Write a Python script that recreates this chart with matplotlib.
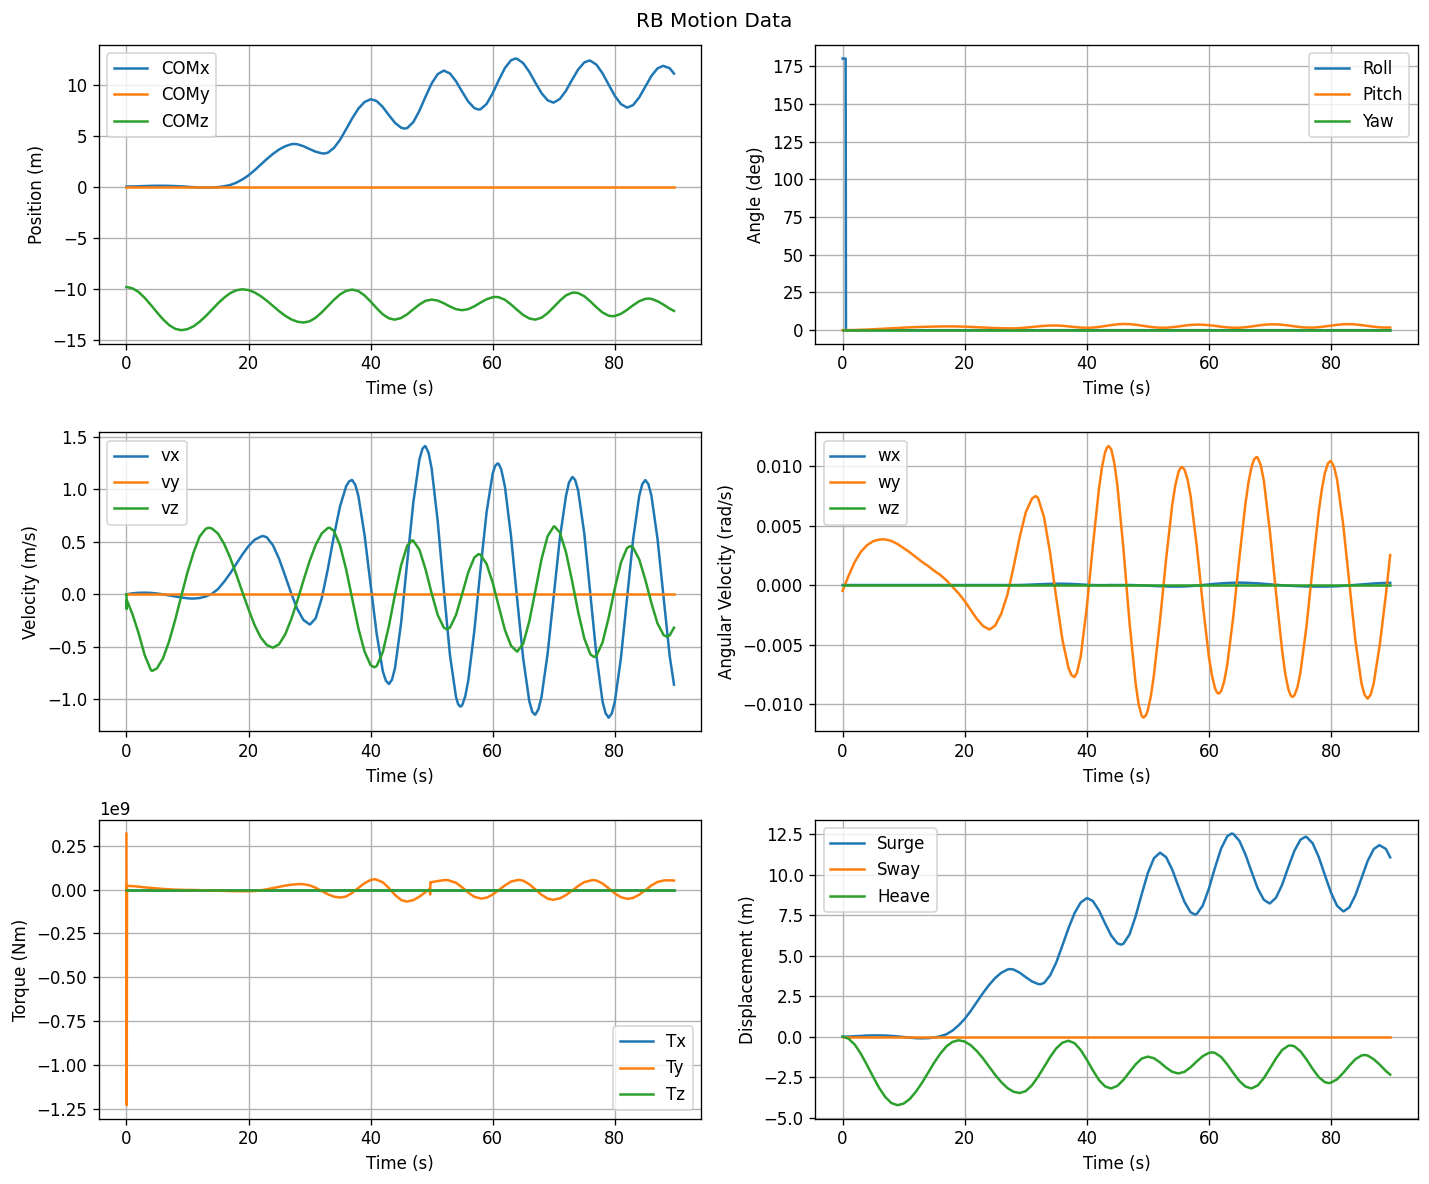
import numpy as np
import matplotlib
matplotlib.use('Agg')
import matplotlib.pyplot as plt

# ---------------- sampling grid (s) ----------------
t = np.concatenate([[0.0, 0.05, 0.1], np.arange(1, 90), [89.7]])

# ---------------- Position (m) ----------------
com_x = [0.00, 0.00, 0.00,
         0.01, 0.03, 0.05, 0.07, 0.08, 0.08, 0.07, 0.05, 0.02, -0.02,
         -0.06, -0.09, -0.10, -0.09, -0.05, 0.03, 0.15, 0.38, 0.70, 1.10,
         1.60, 2.15, 2.70, 3.20, 3.63, 3.95, 4.15, 4.15, 3.96, 3.68,
         3.42, 3.26, 3.32, 3.79, 4.59, 5.63, 6.70, 7.64, 8.29, 8.56,
         8.38, 7.80, 7.00, 6.25, 5.77, 5.74, 6.32, 7.44, 8.81, 10.11,
         11.03, 11.37, 11.09, 10.32, 9.30, 8.33, 7.69, 7.58, 8.10, 9.15,
         10.44, 11.62, 12.38, 12.53, 12.10, 11.25, 10.18, 9.16, 8.46, 8.24,
         8.59, 9.39, 10.46, 11.48, 12.17, 12.34, 11.95, 11.10, 9.99, 8.90,
         8.09, 7.75, 7.99, 8.74, 9.79, 10.85, 11.59, 11.82, 11.60,
         11.08]
com_x_ext_t = [27.4, 32.4, 40.1, 45.6, 57.7, 63.7, 69.9, 75.8, 82.1, 87.9]
com_x_ext_v = [4.18, 3.24, 8.56, 5.69, 7.55, 12.55, 8.24, 12.35, 7.75, 11.83]

com_z = [-9.85, -9.85, -9.85,
         -9.98, -10.34, -10.91, -11.60, -12.33, -13.02, -13.58, -13.95, -14.08, -13.98,
         -13.70, -13.25, -12.70, -12.08, -11.45, -10.90, -10.45, -10.17, -10.07, -10.15,
         -10.38, -10.74, -11.19, -11.70, -12.21, -12.66, -13.02, -13.25, -13.33, -13.21,
         -12.86, -12.33, -11.72, -11.10, -10.57, -10.22, -10.10, -10.25, -10.67, -11.27,
         -11.93, -12.53, -12.92, -13.04, -12.89, -12.52, -12.03, -11.56, -11.20, -11.08,
         -11.18, -11.44, -11.76, -12.02, -12.12, -12.02, -11.74, -11.38, -11.05, -10.85,
         -10.85, -11.10, -11.56, -12.09, -12.59, -12.93, -13.04, -12.86, -12.41, -11.81,
         -11.19, -10.67, -10.41, -10.44, -10.75, -11.26, -11.84, -12.35, -12.66, -12.69,
         -12.48, -12.09, -11.64, -11.24, -11.01, -11.01, -11.24, -11.58, -11.97,
         -12.19]
com_z_ext_t = [43.9, 60.5, 66.9, 73.4, 79.6, 85.5]
com_z_ext_v = [-13.04, -10.82, -13.04, -10.39, -12.71, -10.98]

# ---------------- Euler angles (deg) ----------------
roll_t = [0.0, 0.5, 0.55, 89.7]
roll = [180.0, 180.0, 0.0, 0.0]
pitch = [0.0, 0.0, 0.0,
         0.01, 0.08, 0.22, 0.40, 0.60, 0.82, 1.04, 1.25, 1.45, 1.70,
         1.88, 2.05, 2.18, 2.30, 2.39, 2.46, 2.50, 2.50, 2.44, 2.32,
         2.16, 1.97, 1.77, 1.58, 1.41, 1.28, 1.21, 1.22, 1.37, 1.69,
         2.09, 2.50, 2.84, 3.05, 3.09, 2.90, 2.52, 2.09, 1.75, 1.60,
         1.73, 2.14, 2.75, 3.39, 3.87, 4.09, 4.00, 3.62, 3.04, 2.41,
         1.91, 1.63, 1.65, 1.96, 2.45, 3.01, 3.46, 3.69, 3.63, 3.32,
         2.84, 2.30, 1.86, 1.62, 1.65, 1.97, 2.48, 3.07, 3.57, 3.86,
         3.86, 3.59, 3.11, 2.55, 2.06, 1.75, 1.72, 1.98, 2.45, 3.02,
         3.55, 3.91, 3.99, 3.80, 3.37, 2.82, 2.29, 1.89, 1.75,
         1.78]

# ---------------- Velocity (m/s) ----------------
v_x = [0.0, 0.0, 0.001,
       0.010, 0.015, 0.016, 0.014, 0.008, 0.000, -0.010, -0.020, -0.030, -0.037,
       -0.040, -0.035, -0.020, 0.005, 0.050, 0.120, 0.200, 0.290, 0.380, 0.460,
       0.520, 0.550, 0.543, 0.468, 0.340, 0.177, 0.009, -0.140, -0.244, -0.286,
       -0.228, -0.037, 0.243, 0.560, 0.840, 1.031, 1.088, 0.937, 0.570, 0.092,
       -0.378, -0.732, -0.854, -0.702, -0.271, 0.309, 0.876, 1.286, 1.411, 1.199,
       0.693, 0.040, -0.578, -0.981, -1.056, -0.822, -0.344, 0.237, 0.782, 1.153,
       1.241, 1.028, 0.556, -0.042, -0.612, -1.019, -1.145, -0.976, -0.564, -0.015,
       0.535, 0.936, 1.115, 0.989, 0.581, 0.001, -0.586, -1.024, -1.175, -1.026,
       -0.609, -0.043, 0.523, 0.937, 1.089, 0.941, 0.529, -0.031, -0.590,
       -0.860]
# extra readings at the crests and troughs
v_x_ext_t = [2.9, 10.7, 22.4, 30.1, 36.5, 36.9, 37.5, 42.5, 43.5, 48.5, 48.9, 49.5,
             54.35, 54.7, 55.5, 60.4, 60.8, 61.4, 66.5, 66.9, 67.5, 72.5, 73.1, 73.5,
             78.5, 79.5, 84.5, 85.5]
v_x_ext_v = [0.016, -0.040, 0.556, -0.286, 1.077, 1.089, 1.043, -0.822, -0.814, 1.388, 1.413, 1.348,
             -1.048, -1.070, -0.972, 1.223, 1.248, 1.191, -1.121, -1.146, -1.094, 1.065, 1.117, 1.091,
             -1.134, -1.136, 1.050, 1.051]

v_z = [0.0, -0.14, -0.06,
       -0.190, -0.370, -0.580, -0.720, -0.705, -0.609, -0.447, -0.241, -0.013, 0.209,
       0.399, 0.552, 0.625, 0.628, 0.579, 0.482, 0.349, 0.190, 0.021, -0.142,
       -0.293, -0.410, -0.483, -0.508, -0.476, -0.383, -0.237, -0.061, 0.132, 0.316,
       0.471, 0.581, 0.632, 0.604, 0.466, 0.236, -0.045, -0.323, -0.543, -0.674,
       -0.683, -0.550, -0.301, 0.000, 0.278, 0.464, 0.511, 0.425, 0.239, 0.010,
       -0.197, -0.317, -0.317, -0.195, 0.004, 0.210, 0.352, 0.378, 0.290, 0.111,
       -0.115, -0.339, -0.489, -0.546, -0.470, -0.256, 0.037, 0.335, 0.555, 0.647,
       0.591, 0.403, 0.130, -0.167, -0.419, -0.571, -0.585, -0.457, -0.221, 0.055,
       0.301, 0.441, 0.445, 0.334, 0.140, -0.083, -0.277, -0.388, -0.390,
       -0.317]
v_z_ext_t = [4.2, 13.5, 33.3, 40.6, 46.8, 52.5, 57.7, 70.1, 76.6, 82.5, 88.5]
v_z_ext_v = [-0.730, 0.635, 0.635, -0.695, 0.514, -0.333, 0.384, 0.648, -0.597, 0.460, -0.403]

# ---------------- Angular velocity (1e-3 rad/s) ----------------
w_y_milli = [-0.50, -0.45, -0.35,
             0.80, 1.95, 2.80, 3.35, 3.68, 3.82, 3.83, 3.70, 3.45, 3.10,
             2.75, 2.35, 1.95, 1.60, 1.20, 0.85, 0.40, -0.15, -0.70, -1.35,
             -2.10, -2.85, -3.45, -3.72, -3.40, -2.40, -0.80, 1.50, 4.00, 6.10,
             7.25, 7.33, 5.70, 2.67, -1.08, -4.57, -6.97, -7.72, -6.02, -1.89,
             3.31, 8.11, 11.16, 11.41, 8.44, 3.07, -3.16, -8.27, -10.99, -10.52,
             -7.57, -2.95, 2.21, 6.76, 9.46, 9.71, 7.50, 3.35, -1.59, -6.04,
             -8.67, -8.93, -6.74, -2.65, 2.31, 6.88, 9.94, 10.70, 8.78, 4.49,
             -0.66, -5.52, -8.72, -9.29, -7.35, -3.42, 1.50, 6.20, 9.41, 10.41,
             8.86, 5.09, 0.18, -4.66, -8.29, -9.55, -8.27, -5.00, -0.80,
             2.52]
w_y_ext_t = [6.6, 24.1, 31.6, 37.5, 37.9, 38.4, 42.5, 43.3, 43.6, 44.5, 48.5, 49.3, 49.7, 50.5,
             54.5, 55.3, 55.6, 56.5, 60.5, 61.3, 61.6, 62.5, 66.5, 67.4, 67.8, 68.5,
             72.5, 73.4, 73.7, 74.5, 78.5, 79.5, 79.9, 80.5, 85.5, 86.5]
w_y_ext_v = [3.84, -3.73, 7.48, -7.58, -7.73, -7.36, 9.95, 11.55, 11.68, 10.28, -10.06, -11.15, -10.94, -9.32,
             8.38, 9.80, 9.92, 8.88, -7.59, -9.01, -9.13, -8.11, 8.68, 10.56, 10.76, 10.07,
             -7.42, -9.28, -9.41, -8.61, 8.03, 10.22, 10.42, 9.95, -9.22, -9.22]

w_x_milli = [0.0, 0.0, 0.0,
             0.0, 0.0, 0.0, 0.0, 0.0, 0.0, 0.0, 0.0, 0.0, 0.0,
             0.0, 0.0, 0.0, 0.0, 0.0, 0.0, 0.0, 0.0, 0.0, 0.0,
             0.0, 0.0, 0.0, 0.0, 0.0, 0.0, 0.0, 0.0, 0.0, 0.02,
             0.04, 0.06, 0.08, 0.10, 0.11, 0.11, 0.10, 0.08, 0.05, 0.02,
             0.0, -0.01, -0.01, 0.0, 0.0, 0.0, 0.0, -0.01, -0.03, -0.05,
             -0.08, -0.10, -0.12, -0.13, -0.13, -0.12, -0.09, -0.05, 0.0, 0.05,
             0.10, 0.14, 0.17, 0.19, 0.20, 0.19, 0.17, 0.14, 0.10, 0.06,
             0.02, -0.02, -0.05, -0.08, -0.10, -0.12, -0.13, -0.13, -0.13, -0.12,
             -0.10, -0.07, -0.03, 0.01, 0.05, 0.09, 0.13, 0.16, 0.18,
             0.19]

# ---------------- Torque (1e9 Nm) ----------------
torque_t = [0.0, 0.05, 0.1, 1, 2, 3, 4, 5, 6, 7, 8, 9, 10,
            11, 12, 13, 14, 15, 16, 17, 18, 19, 20,
            21, 22, 23, 24, 25, 26, 27, 28, 28.75, 30,
            31, 32, 33, 34, 35.1, 36, 37, 38, 39, 40,
            40.75, 42, 43, 44, 45, 45.9, 47, 48, 49, 49.7,
            49.75, 49.8, 50, 51, 52, 52.6, 54, 55, 56, 57,
            58.1, 59, 60, 61, 62, 63, 64.25, 65, 66, 67,
            68, 69, 69.9, 71, 72, 73, 74, 75, 76.4, 77,
            78, 79, 80, 81, 82.1, 83, 84, 85, 86, 87,
            88.1, 89, 89.7]
torque_y_giga = [0.32, -1.23, 0.022, 0.020, 0.017, 0.013, 0.010, 0.007, 0.004, 0.002, 0.000, -0.001, -0.002,
                 -0.002, -0.003, -0.004, -0.005, -0.006, -0.007, -0.008, -0.009, -0.009, -0.009,
                 -0.008, -0.004, 0.002, 0.009, 0.016, 0.023, 0.028, 0.031, 0.032, 0.025,
                 0.011, -0.008, -0.026, -0.040, -0.045, -0.039, -0.018, 0.010, 0.037, 0.055,
                 0.060, 0.042, 0.009, -0.030, -0.059, -0.068, -0.060, -0.040, -0.014, 0.005,
                 -0.028, 0.043, 0.043, 0.049, 0.054, 0.055, 0.039, 0.013, -0.017, -0.041,
                 -0.051, -0.046, -0.028, -0.002, 0.024, 0.046, 0.056, 0.051, 0.031, 0.001,
                 -0.029, -0.051, -0.058, -0.050, -0.031, -0.006, 0.021, 0.043, 0.055, 0.052,
                 0.035, 0.008, -0.021, -0.043, -0.053, -0.047, -0.029, -0.003, 0.024, 0.044,
                 0.053, 0.053, 0.052]


def merge(tg, vg, te, ve):
    tt = np.concatenate([np.asarray(tg, float), np.asarray(te, float)])
    vv = np.concatenate([np.asarray(vg, float), np.asarray(ve, float)])
    order = np.argsort(tt, kind='stable')
    return tt[order], vv[order]


tx, cx = merge(t, com_x, com_x_ext_t, com_x_ext_v)
tz, cz = merge(t, com_z, com_z_ext_t, com_z_ext_v)
tvx, vx = merge(t, v_x, v_x_ext_t, v_x_ext_v)
tvz, vz = merge(t, v_z, v_z_ext_t, v_z_ext_v)
twy, wy = merge(t, w_y_milli, w_y_ext_t, w_y_ext_v)
wy = wy * 1e-3
wx = np.asarray(w_x_milli) * 1e-3
ty_vals = np.asarray(torque_y_giga) * 1e9
zeros = np.zeros(len(t))

fig, axs = plt.subplots(3, 2, figsize=(1429 / 120, 1184 / 120), dpi=120)
fig.suptitle('RB Motion Data', y=0.99)
fig.subplots_adjust(left=0.0693, right=0.9920, top=0.9620, bottom=0.0551,
                    wspace=0.189, hspace=0.297)

ax = axs[0, 0]
ax.plot(tx, cx, label='COMx')
ax.plot(t, zeros, label='COMy')
ax.plot(tz, cz, label='COMz')
ax.set_xlabel('Time (s)')
ax.set_ylabel('Position (m)')
ax.legend(loc='upper left')
ax.grid(True)

ax = axs[0, 1]
ax.plot(roll_t, roll, label='Roll')
ax.plot(t, pitch, label='Pitch')
ax.plot(t, zeros, label='Yaw')
ax.set_xlabel('Time (s)')
ax.set_ylabel('Angle (deg)')
ax.legend(loc='upper right')
ax.grid(True)

ax = axs[1, 0]
ax.plot(tvx, vx, label='vx')
ax.plot(t, zeros, label='vy')
ax.plot(tvz, vz, label='vz')
ax.set_xlabel('Time (s)')
ax.set_ylabel('Velocity (m/s)')
ax.legend(loc='upper left')
ax.grid(True)

ax = axs[1, 1]
ax.plot(t, wx, label='wx')
ax.plot(twy, wy, label='wy')
ax.plot(t, zeros, label='wz')
ax.set_xlabel('Time (s)')
ax.set_ylabel('Angular Velocity (rad/s)')
ax.legend(loc='upper left')
ax.grid(True)

ax = axs[2, 0]
ax.plot(t, zeros, label='Tx')
ax.plot(torque_t, ty_vals, label='Ty')
ax.plot(t, zeros, label='Tz')
ax.set_xlabel('Time (s)')
ax.set_ylabel('Torque (Nm)')
ax.legend(loc='lower right')
ax.grid(True)

ax = axs[2, 1]
ax.plot(tx, cx - cx[0], label='Surge')
ax.plot(t, zeros, label='Sway')
ax.plot(tz, cz - cz[0], label='Heave')
ax.set_xlabel('Time (s)')
ax.set_ylabel('Displacement (m)')
ax.legend(loc='upper left')
ax.grid(True)

fig.savefig('out.png', dpi=120)
